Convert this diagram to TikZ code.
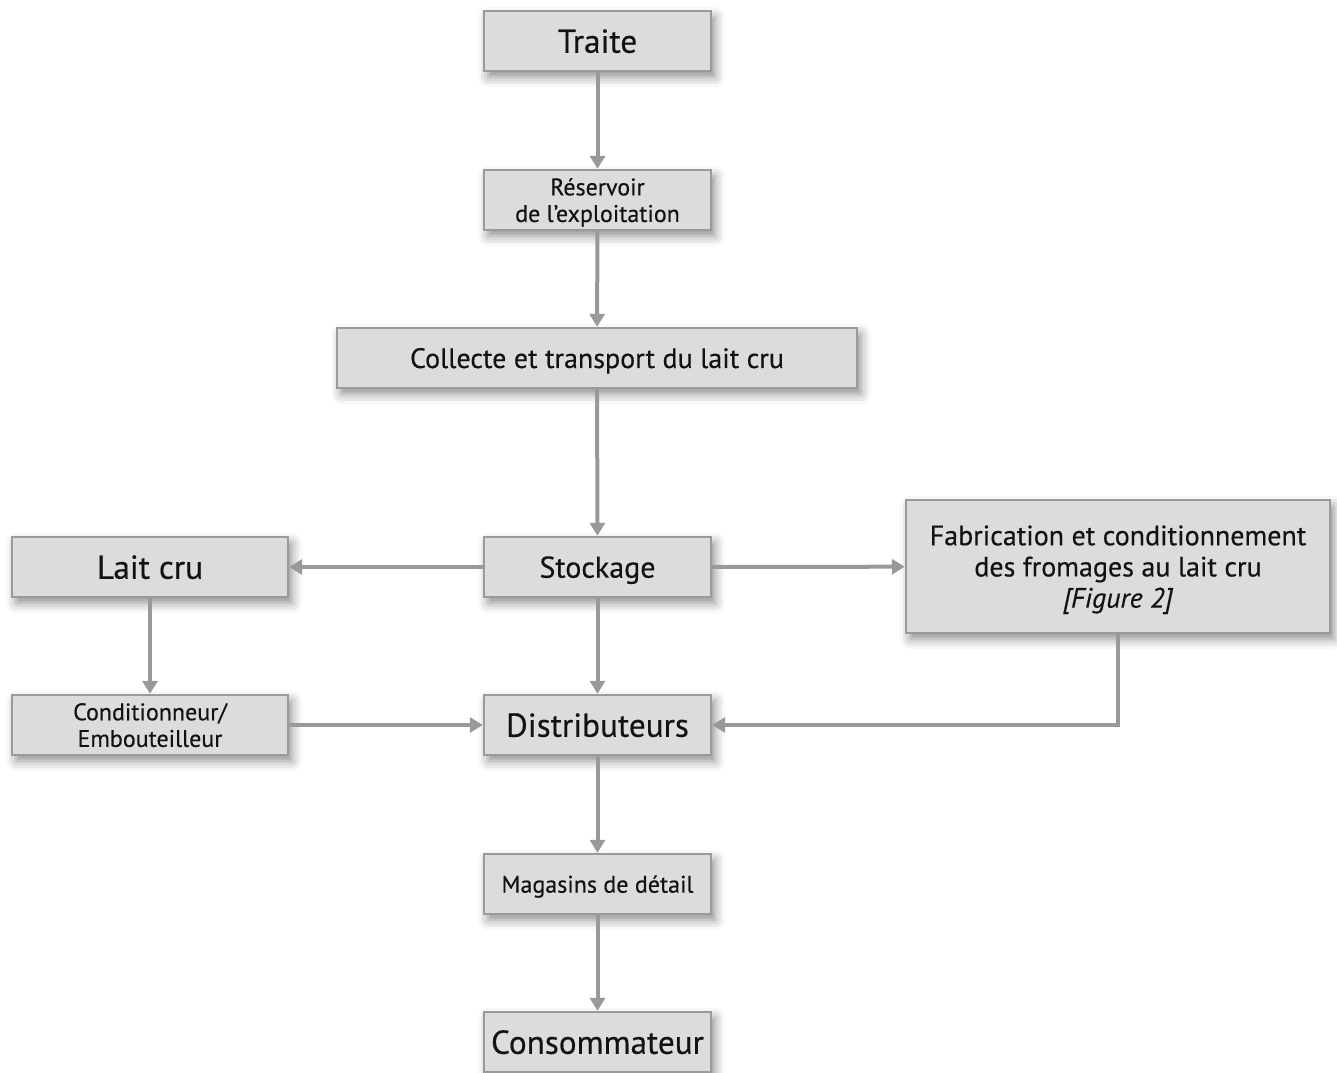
\documentclass[tikz,border=0pt]{standalone}
\usepackage{fontspec}
\setmainfont{PT Sans}[FakeBold=0.35]
\usetikzlibrary{arrows.meta,shadows.blur}
\definecolor{boxfill}{HTML}{DCDCDC}
\definecolor{boxline}{HTML}{9A9A9A}
\definecolor{arrowgray}{HTML}{999999}
\definecolor{txt}{HTML}{121212}
\tikzset{
  box/.style={draw=boxline, line width=1.2pt, fill=boxfill, text=txt,
    inner sep=0pt, align=center, minimum height=30pt, minimum width=113.5pt, text depth=0pt,
    blur shadow={shadow xshift=2pt, shadow yshift=-3pt, shadow blur radius=5pt, shadow opacity=45}},
  flow/.style={draw=arrowgray, line width=2pt, -{Triangle[length=6.5pt,width=7.5pt]}},
  fbig/.style={font=\fontsize{16.6}{19}\selectfont},
  fmid/.style={font=\fontsize{14}{15.6}\selectfont},
  fsmall/.style={font=\fontsize{12}{13.3}\selectfont},
}
\begin{document}
\begin{tikzpicture}[x=0.5pt,y=-0.5pt]
\useasboundingbox (0,0) rectangle (1337,1072);
\node[box,fbig] (traite) at (597.5,41) {Traite};
\node[box,fsmall] (reservoir) at (597.5,200) {Réservoir\\de l’exploitation};
\node[box,fmid,minimum width=260pt] (collecte) at (597,358) {Collecte et transport du lait cru};
\node[box,font=\fontsize{15}{17}\selectfont] (stockage) at (597.5,567) {Stockage};
\node[box,fbig,minimum width=138pt] (laitcru) at (150,567) {Lait cru};
\node[box,fmid,minimum width=212pt,minimum height=66.5pt] (fabrication) at (1118,566.5) {Fabrication et conditionnement\\des fromages au lait cru\\\textit{[Figure 2]}};
\node[box,fsmall,minimum width=138pt] (condit) at (150,725) {Conditionneur/\\Embouteilleur};
\node[box,fbig] (distrib) at (597.5,725) {Distributeurs};
\node[box,fsmall] (magasins) at (597.5,884) {Magasins de détail};
\node[box,fbig] (conso) at (597.5,1042) {Consommateur};
\draw[flow] (traite) -- (reservoir);
\draw[flow] (reservoir) -- (collecte);
\draw[flow] (collecte) -- (stockage);
\draw[flow] (stockage) -- (laitcru);
\draw[flow] (stockage) -- (fabrication);
\draw[flow] (stockage) -- (distrib);
\draw[flow] (laitcru) -- (condit);
\draw[flow] (condit) -- (distrib);
\draw[flow] (fabrication.south) |- (distrib.east);
\draw[flow] (distrib) -- (magasins);
\draw[flow] (magasins) -- (conso);
\end{tikzpicture}
\end{document}
